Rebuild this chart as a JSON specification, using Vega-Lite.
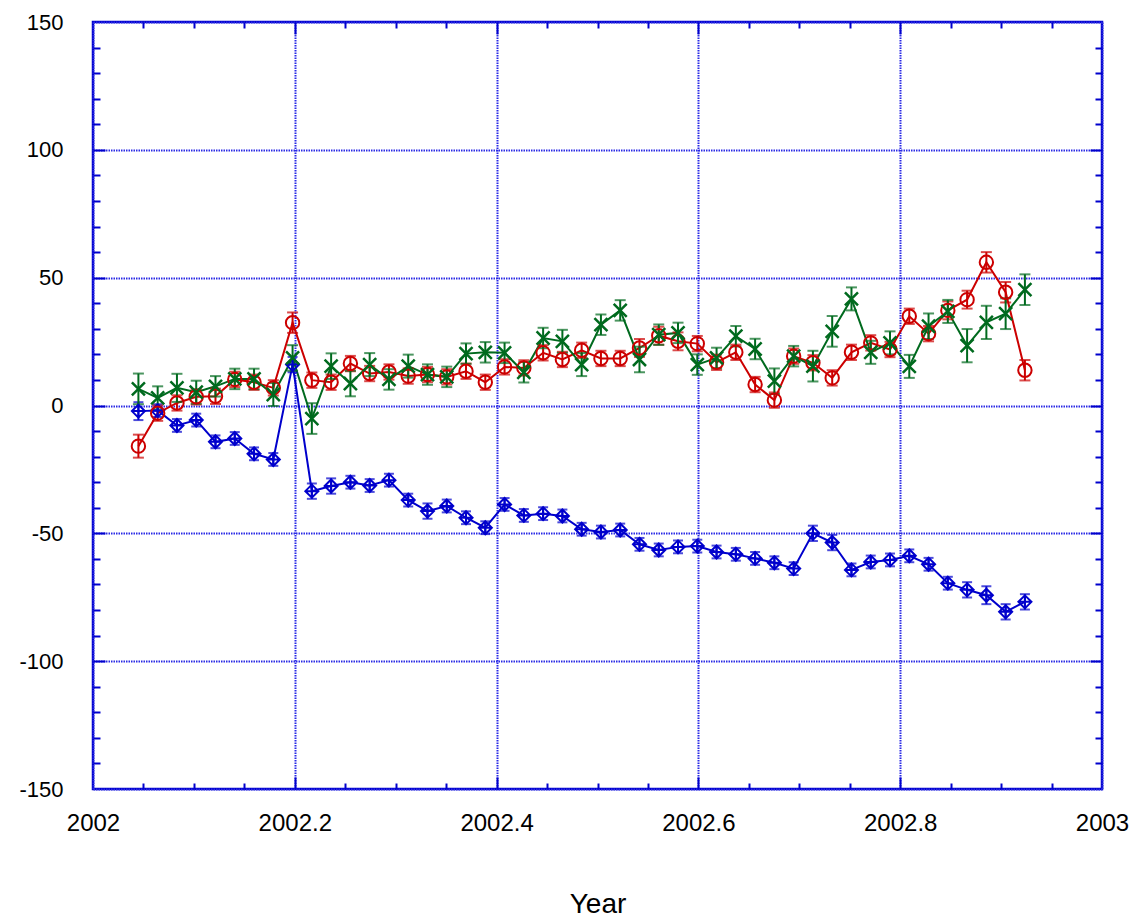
{
  "$schema": "https://vega.github.io/schema/vega-lite/v6.json",
  "width": 1009,
  "height": 767,
  "autosize": {"type": "none"},
  "padding": {"left": 93, "top": 22, "right": 28, "bottom": 129},
  "background": "white",
  "config": {
    "view": {"stroke": "#0000cc", "strokeWidth": 2.5},
    "axis": {
      "labelFont": "Liberation Sans",
      "titleFont": "Liberation Sans",
      "labelColor": "#000000",
      "titleColor": "#000000",
      "gridColor": "#2a2ae6",
      "gridDash": [1.5, 1],
      "gridWidth": 2,
      "gridOpacity": 1,
      "tickColor": "#0000cc",
      "tickWidth": 2
    }
  },
  "data": {
    "values": [
      {"t": 2002.045, "b": -2.2, "be": 3.5, "r": -15.9, "re": 4.5, "g": 6.5, "ge": 6},
      {"t": 2002.0641, "b": -2, "be": 2.5, "r": -3, "re": 3, "g": 3, "ge": 4.5},
      {"t": 2002.0832, "b": -7.8, "be": 2.5, "r": 1, "re": 3, "g": 6.9, "ge": 5.5},
      {"t": 2002.1023, "b": -5.7, "be": 2.5, "r": 3.4, "re": 3, "g": 5.2, "ge": 4.5},
      {"t": 2002.1214, "b": -14.2, "be": 2.5, "r": 3.6, "re": 3, "g": 7.5, "ge": 4},
      {"t": 2002.1405, "b": -12.9, "be": 2.5, "r": 10.2, "re": 3, "g": 10.4, "ge": 4},
      {"t": 2002.1596, "b": -18.9, "be": 2.5, "r": 9.1, "re": 3, "g": 10.4, "ge": 4},
      {"t": 2002.1787, "b": -21.1, "be": 2.5, "r": 6.9, "re": 3, "g": 4.3, "ge": 4.5},
      {"t": 2002.1978, "b": 16, "be": 3, "r": 32.4, "re": 4, "g": 18.6, "ge": 5},
      {"t": 2002.2169, "b": -33.5, "be": 3, "r": 9.9, "re": 3, "g": -5.1, "ge": 6},
      {"t": 2002.236, "b": -31.5, "be": 3, "r": 9.1, "re": 3, "g": 15.4, "ge": 5},
      {"t": 2002.2551, "b": -30, "be": 2.5, "r": 16.4, "re": 3, "g": 8.6, "ge": 5},
      {"t": 2002.2742, "b": -31.3, "be": 2.5, "r": 12.5, "re": 3, "g": 16, "ge": 4.5},
      {"t": 2002.2933, "b": -29.2, "be": 2.5, "r": 13.1, "re": 3, "g": 10.2, "ge": 4},
      {"t": 2002.3124, "b": -37, "be": 2.5, "r": 11.5, "re": 3, "g": 15.4, "ge": 4.5},
      {"t": 2002.3315, "b": -41.3, "be": 3, "r": 12.1, "re": 3, "g": 12.1, "ge": 4},
      {"t": 2002.3506, "b": -39.3, "be": 2.5, "r": 11.2, "re": 3, "g": 11.2, "ge": 4},
      {"t": 2002.3697, "b": -43.9, "be": 2.5, "r": 13.4, "re": 3, "g": 20.3, "ge": 4},
      {"t": 2002.3888, "b": -47.8, "be": 2.5, "r": 9.1, "re": 3, "g": 20.8, "ge": 4},
      {"t": 2002.4079, "b": -38.7, "be": 2.5, "r": 15.1, "re": 3, "g": 20.6, "ge": 4},
      {"t": 2002.427, "b": -43, "be": 2.5, "r": 14.7, "re": 3, "g": 13, "ge": 4},
      {"t": 2002.4461, "b": -42.3, "be": 2.5, "r": 20.6, "re": 3, "g": 26.4, "ge": 4},
      {"t": 2002.4652, "b": -43.2, "be": 2.5, "r": 18, "re": 3, "g": 25.1, "ge": 4.5},
      {"t": 2002.4843, "b": -48.4, "be": 2.5, "r": 21.6, "re": 3, "g": 16, "ge": 4.5},
      {"t": 2002.5034, "b": -49.5, "be": 2.5, "r": 18.4, "re": 3, "g": 31.6, "ge": 4},
      {"t": 2002.5225, "b": -48.7, "be": 2.5, "r": 18.4, "re": 3, "g": 37.2, "ge": 4},
      {"t": 2002.5416, "b": -54.3, "be": 2.5, "r": 22.5, "re": 3.5, "g": 18, "ge": 5},
      {"t": 2002.5607, "b": -56.5, "be": 2.5, "r": 27.3, "re": 3.5, "g": 27.7, "ge": 4},
      {"t": 2002.5798, "b": -55.3, "be": 2.5, "r": 25.1, "re": 3.5, "g": 28.4, "ge": 4},
      {"t": 2002.5989, "b": -55, "be": 2.5, "r": 24.2, "re": 3, "g": 16, "ge": 4},
      {"t": 2002.618, "b": -57.3, "be": 2.5, "r": 16.9, "re": 3, "g": 18.6, "ge": 4},
      {"t": 2002.6371, "b": -58.2, "be": 2.5, "r": 20.8, "re": 3, "g": 27.1, "ge": 4},
      {"t": 2002.6562, "b": -59.8, "be": 2.5, "r": 8.2, "re": 3, "g": 22.1, "ge": 4},
      {"t": 2002.6753, "b": -61.5, "be": 2.5, "r": 2.1, "re": 3, "g": 9.5, "ge": 5},
      {"t": 2002.6944, "b": -63.8, "be": 2.5, "r": 19.3, "re": 3, "g": 19.3, "ge": 4},
      {"t": 2002.7135, "b": -50, "be": 3, "r": 16.7, "re": 3, "g": 15.4, "ge": 6},
      {"t": 2002.7326, "b": -53.6, "be": 3, "r": 10.8, "re": 3, "g": 29, "ge": 6},
      {"t": 2002.7517, "b": -64.3, "be": 2.5, "r": 20.8, "re": 3, "g": 41.7, "ge": 4.5},
      {"t": 2002.7708, "b": -61.2, "be": 2.5, "r": 24.5, "re": 3, "g": 20.8, "ge": 4.5},
      {"t": 2002.7899, "b": -60.4, "be": 2.5, "r": 21.9, "re": 3, "g": 24.5, "ge": 4.5},
      {"t": 2002.809, "b": -58.8, "be": 2.5, "r": 34.9, "re": 3, "g": 15.3, "ge": 4.5},
      {"t": 2002.8281, "b": -62.1, "be": 2.5, "r": 28.1, "re": 3, "g": 31, "ge": 5},
      {"t": 2002.8472, "b": -69.5, "be": 2.5, "r": 37.2, "re": 3.5, "g": 36.8, "ge": 4.5},
      {"t": 2002.8663, "b": -72.1, "be": 3, "r": 41.4, "re": 3.5, "g": 23.4, "ge": 6.5},
      {"t": 2002.8854, "b": -74.2, "be": 3.5, "r": 56, "re": 4, "g": 32.5, "ge": 6.5},
      {"t": 2002.9045, "b": -80.7, "be": 3, "r": 44.3, "re": 4, "g": 35.9, "ge": 6},
      {"t": 2002.9236, "b": -76.8, "be": 3, "r": 13.8, "re": 4, "g": 45.3, "ge": 6}
    ]
  },
  "resolve": {"axis": {"x": "independent", "y": "independent"}},
  "layer": [
    {
      "mark": {"type": "line", "color": "#0000cc", "strokeWidth": 2},
      "encoding": {
        "x": {"field": "t", "type": "quantitative", "scale": {"domain": [2002, 2003], "nice": false, "zero": false},
          "axis": {"orient": "bottom", "values": [2002, 2002.2, 2002.4, 2002.6, 2002.8, 2003], "labelExpr": "toString(datum.value)", "ticks": false, "domain": false, "grid": true, "labelPadding": 22, "labelFontSize": 24, "labelFlush": false, "labelOverlap": false, "title": "Year", "titleFontSize": 28, "titleFontWeight": "normal", "titleX": 504.5, "titleY": 123, "titleAlign": "center", "titleBaseline": "alphabetic", "titleAnchor": null}},
        "y": {"field": "b", "type": "quantitative", "scale": {"domain": [-150, 150], "nice": false, "zero": false},
          "axis": {"orient": "left", "values": [-150, -100, -50, 0, 50, 100, 150], "labelExpr": "toString(datum.value)", "ticks": false, "domain": false, "grid": true, "labelPadding": 30, "labelFontSize": 22, "labelFlush": false, "labelOverlap": false, "title": null}}
      }
    },
    {
      "mark": {"type": "line", "color": "#cc0000", "strokeWidth": 2},
      "encoding": {
        "x": {"field": "t", "type": "quantitative", "scale": {"domain": [2002, 2003], "nice": false, "zero": false},
          "axis": {"orient": "bottom", "values": [2002.2, 2002.4, 2002.6, 2002.8], "labels": false, "domain": false, "grid": false, "ticks": true, "tickSize": -12, "title": null}},
        "y": {"field": "r", "type": "quantitative", "scale": {"domain": [-150, 150], "nice": false, "zero": false},
          "axis": {"orient": "left", "values": [-100, -50, 0, 50, 100], "labels": false, "domain": false, "grid": false, "ticks": true, "tickSize": -12, "title": null}}
      }
    },
    {
      "mark": {"type": "line", "color": "#006a1e", "strokeWidth": 2},
      "encoding": {
        "x": {"field": "t", "type": "quantitative", "scale": {"domain": [2002, 2003], "nice": false, "zero": false},
          "axis": {"orient": "bottom", "values": [2002.05, 2002.1, 2002.15, 2002.25, 2002.3, 2002.35, 2002.45, 2002.5, 2002.55, 2002.65, 2002.7, 2002.75, 2002.85, 2002.9, 2002.95], "labels": false, "domain": false, "grid": false, "ticks": true, "tickSize": -6, "title": null}},
        "y": {"field": "g", "type": "quantitative", "scale": {"domain": [-150, 150], "nice": false, "zero": false},
          "axis": {"orient": "left", "values": [-140, -130, -120, -110, -90, -80, -70, -60, -40, -30, -20, -10, 10, 20, 30, 40, 60, 70, 80, 90, 110, 120, 130, 140], "labels": false, "domain": false, "grid": false, "ticks": true, "tickSize": -7, "title": null}}
      }
    },
    {
      "mark": {"type": "errorbar", "color": "#0000cc", "thickness": 2, "ticks": {"size": 10}},
      "encoding": {
        "x": {"field": "t", "type": "quantitative", "scale": {"domain": [2002, 2003], "nice": false, "zero": false}, "axis": null},
        "y": {"field": "b", "type": "quantitative", "scale": {"domain": [-150, 150], "nice": false, "zero": false}, "axis": null},
        "yError": {"field": "be"}
      }
    },
    {
      "mark": {"type": "errorbar", "color": "#cc0000", "thickness": 2, "ticks": {"size": 11}},
      "encoding": {
        "x": {"field": "t", "type": "quantitative", "scale": {"domain": [2002, 2003], "nice": false, "zero": false}, "axis": null},
        "y": {"field": "r", "type": "quantitative", "scale": {"domain": [-150, 150], "nice": false, "zero": false}, "axis": null},
        "yError": {"field": "re"}
      }
    },
    {
      "mark": {"type": "errorbar", "color": "#006a1e", "thickness": 2, "ticks": {"size": 11}},
      "encoding": {
        "x": {"field": "t", "type": "quantitative", "scale": {"domain": [2002, 2003], "nice": false, "zero": false}, "axis": null},
        "y": {"field": "g", "type": "quantitative", "scale": {"domain": [-150, 150], "nice": false, "zero": false}, "axis": null},
        "yError": {"field": "ge"}
      }
    },
    {
      "mark": {"type": "point", "shape": "M0,-1L1,0L0,1L-1,0Z M-1,0L1,0 M0,-1L0,1", "filled": false, "stroke": "#0000cc", "strokeWidth": 2, "size": 170, "opacity": 1},
      "encoding": {
        "x": {"field": "t", "type": "quantitative", "scale": {"domain": [2002, 2003], "nice": false, "zero": false},
          "axis": {"orient": "top", "values": [2002.2, 2002.4, 2002.6, 2002.8], "labels": false, "domain": false, "grid": false, "ticks": true, "tickSize": -12, "title": null}},
        "y": {"field": "b", "type": "quantitative", "scale": {"domain": [-150, 150], "nice": false, "zero": false},
          "axis": {"orient": "right", "values": [-100, -50, 0, 50, 100], "labels": false, "domain": false, "grid": false, "ticks": true, "tickSize": -12, "title": null}}
      }
    },
    {
      "mark": {"type": "point", "shape": "circle", "filled": false, "stroke": "#cc0000", "strokeWidth": 2, "size": 180, "opacity": 1},
      "encoding": {
        "x": {"field": "t", "type": "quantitative", "scale": {"domain": [2002, 2003], "nice": false, "zero": false},
          "axis": {"orient": "top", "values": [2002.05, 2002.1, 2002.15, 2002.25, 2002.3, 2002.35, 2002.45, 2002.5, 2002.55, 2002.65, 2002.7, 2002.75, 2002.85, 2002.9, 2002.95], "labels": false, "domain": false, "grid": false, "ticks": true, "tickSize": -6, "title": null}},
        "y": {"field": "r", "type": "quantitative", "scale": {"domain": [-150, 150], "nice": false, "zero": false},
          "axis": {"orient": "right", "values": [-140, -130, -120, -110, -90, -80, -70, -60, -40, -30, -20, -10, 10, 20, 30, 40, 60, 70, 80, 90, 110, 120, 130, 140], "labels": false, "domain": false, "grid": false, "ticks": true, "tickSize": -7, "title": null}}
      }
    },
    {
      "mark": {"type": "point", "shape": "M-1,-1L1,1M-1,1L1,-1", "filled": false, "stroke": "#006a1e", "strokeWidth": 2.5, "size": 170, "opacity": 1},
      "encoding": {
        "x": {"field": "t", "type": "quantitative", "scale": {"domain": [2002, 2003], "nice": false, "zero": false}, "axis": null},
        "y": {"field": "g", "type": "quantitative", "scale": {"domain": [-150, 150], "nice": false, "zero": false}, "axis": null}
      }
    }
  ]
}
